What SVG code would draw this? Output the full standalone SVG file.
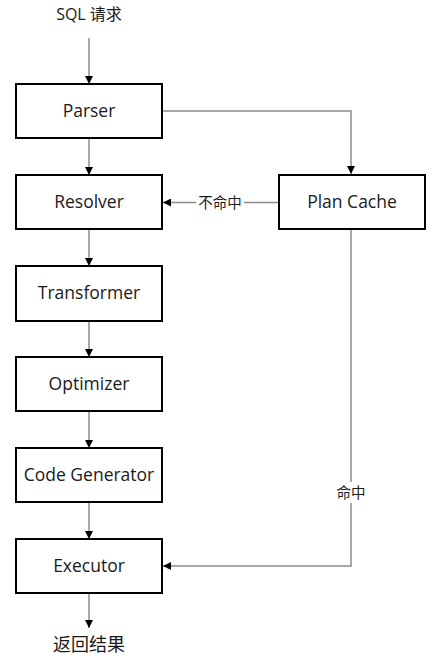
<svg xmlns="http://www.w3.org/2000/svg" width="434" height="665" viewBox="0 0 434 665">
<style>
.box{fill:#fff;stroke:#000;stroke-width:2}
.lbl{font-family:"Open Sans","Liberation Sans","Noto Sans CJK SC",sans-serif;font-size:17.5px;fill:#1a1a1a;text-anchor:middle}
.cjk{font-family:"Noto Sans CJK SC",sans-serif;font-size:14.5px;fill:#1a1a1a;text-anchor:middle}
.ln{fill:none;stroke:#8c8c8c;stroke-width:1.5}
</style>
<defs>
<marker id="ah" viewBox="0 0 10 10" refX="10" refY="5" markerWidth="8" markerHeight="8" markerUnits="userSpaceOnUse" orient="auto">
<path d="M0,0 L10,5 L0,10 Z" fill="#000"/>
</marker>
</defs>
<g id="connectors">
<line class="ln" x1="89" y1="38" x2="89" y2="84" marker-end="url(#ah)"/>
<line class="ln" x1="89" y1="138" x2="89" y2="175" marker-end="url(#ah)"/>
<line class="ln" x1="89" y1="229" x2="89" y2="266" marker-end="url(#ah)"/>
<line class="ln" x1="89" y1="321" x2="89" y2="357" marker-end="url(#ah)"/>
<line class="ln" x1="89" y1="411" x2="89" y2="448" marker-end="url(#ah)"/>
<line class="ln" x1="89" y1="502" x2="89" y2="539" marker-end="url(#ah)"/>
<line class="ln" x1="89" y1="593" x2="89" y2="628" marker-end="url(#ah)"/>
<polyline class="ln" points="162,111 351,111 351,174" marker-end="url(#ah)"/>
<line class="ln" x1="279" y1="202.5" x2="244" y2="202.5"/>
<line class="ln" x1="196" y1="202.5" x2="163" y2="202.5" marker-end="url(#ah)"/>
<line class="ln" x1="351" y1="229" x2="351" y2="482"/>
<polyline class="ln" points="351,503 351,566 163,566" marker-end="url(#ah)"/>
<text class="cjk" x="220" y="207.5">不命中</text>
<text class="cjk" x="351" y="497.5">命中</text>
</g>
<text class="lbl" x="89" y="20" style="font-size:16px">SQL 请求</text>
<text class="lbl" x="89" y="651" style="font-size:18px">返回结果</text>
<g id="parser"><rect class="box" x="16" y="84" width="146" height="54"/><text class="lbl" x="89" y="117">Parser</text></g>
<g id="resolver"><rect class="box" x="16" y="175" width="146" height="54"/><text class="lbl" x="89" y="208">Resolver</text></g>
<g id="transformer"><rect class="box" x="16" y="266" width="146" height="55"/><text class="lbl" x="89" y="299">Transformer</text></g>
<g id="optimizer"><rect class="box" x="16" y="357" width="146" height="54"/><text class="lbl" x="89" y="390">Optimizer</text></g>
<g id="codegen"><rect class="box" x="16" y="448" width="146" height="54"/><text class="lbl" x="89" y="481">Code Generator</text></g>
<g id="executor"><rect class="box" x="16" y="539" width="146" height="54"/><text class="lbl" x="89" y="572">Executor</text></g>
<g id="plancache"><rect class="box" x="279" y="175" width="146" height="54"/><text class="lbl" x="352" y="208">Plan Cache</text></g>
</svg>
